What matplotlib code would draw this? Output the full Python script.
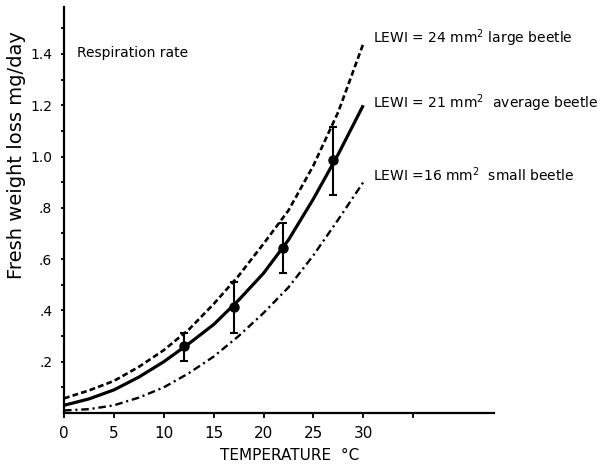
import matplotlib
matplotlib.use("Agg")
import matplotlib.pyplot as plt
from matplotlib.ticker import FixedLocator, FuncFormatter

# temperature grid for the three LEWI curves
temp = [0, 2.5, 5, 7.5, 10, 12.5, 15, 17.5, 20, 22.5, 25, 27.5, 30]
large = [0.057, 0.088, 0.125, 0.18, 0.245, 0.325, 0.425, 0.535, 0.66, 0.79, 0.965, 1.175, 1.44]
average = [0.03, 0.055, 0.09, 0.14, 0.20, 0.27, 0.345, 0.44, 0.545, 0.675, 0.835, 1.01, 1.20]
small = [0.01, 0.015, 0.03, 0.06, 0.10, 0.155, 0.22, 0.30, 0.39, 0.49, 0.615, 0.755, 0.90]

# measured means with error bars
meas_t = [12, 17, 22, 27]
meas_y = [0.26, 0.414, 0.642, 0.986]
meas_lo = [0.204, 0.311, 0.547, 0.85]
meas_hi = [0.313, 0.512, 0.74, 1.116]

labels = ["LEWI = 24 mm$^2$ large beetle",
          "LEWI = 21 mm$^2$  average beetle",
          "LEWI =16 mm$^2$  small beetle"]

fig = plt.figure(figsize=(6.05, 4.66), dpi=100)
ax = fig.add_axes([0.1058, 0.1137, 0.7107, 0.8712])

ax.plot(temp, large, color="black", lw=1.9, linestyle=(0, (2.2, 1.2)))
ax.plot(temp, average, color="black", lw=2.3, solid_capstyle="butt")
ax.plot(temp, small, color="black", lw=1.7, linestyle=(0, (3.2, 1.6, 0.9, 1.6)))

yerr = [[y - lo for y, lo in zip(meas_y, meas_lo)],
        [hi - y for y, hi in zip(meas_y, meas_hi)]]
ax.errorbar(meas_t, meas_y, yerr=yerr, fmt="o", color="black", ms=6.5,
            elinewidth=1.5, capsize=3, capthick=1.5, zorder=5)

# curve labels at the right-hand ends
for txt, y in zip(labels, [1.462, 1.209, 0.928]):
    ax.text(31.0, y, txt, fontsize=10, ha="left", va="center")

ax.text(1.3, 1.405, "Respiration rate", fontsize=10, ha="left", va="center")

ax.set_xlim(0, 43.1)
ax.set_ylim(0, 1.583)
ax.spines["top"].set_visible(False)
ax.spines["right"].set_visible(False)
ax.spines["left"].set_linewidth(1.6)
ax.spines["bottom"].set_linewidth(1.6)

ax.xaxis.set_major_locator(FixedLocator([0, 5, 10, 15, 20, 25, 30, 35]))
ax.xaxis.set_major_formatter(FuncFormatter(lambda v, p: "" if v > 30 else f"{v:.0f}"))
ax.yaxis.set_major_locator(FixedLocator([0.2, 0.4, 0.6, 0.8, 1.0, 1.2, 1.4]))
ax.yaxis.set_minor_locator(FixedLocator([0.1, 0.3, 0.5, 0.7, 0.9, 1.1, 1.3, 1.5]))
ylab = {0.2: ".2", 0.4: ".4", 0.6: ".6", 0.8: ".8", 1.0: "1.0", 1.2: "1.2", 1.4: "1.4"}
ax.yaxis.set_major_formatter(FuncFormatter(lambda v, p: ylab.get(round(v, 1), "")))

ax.tick_params(axis="x", direction="out", length=3.5, width=1.3, labelsize=11, pad=6)
ax.tick_params(axis="y", which="both", direction="out", length=2.5, width=1.3,
               labelsize=10, pad=6)

fig.text(0.028, 0.667, "Fresh weight loss mg/day", rotation=90, fontsize=14,
         ha="center", va="center")
fig.text(0.479, 0.022, "TEMPERATURE  \u00b0C", fontsize=11, ha="center", va="center")

fig.savefig("out.png", dpi=100)
